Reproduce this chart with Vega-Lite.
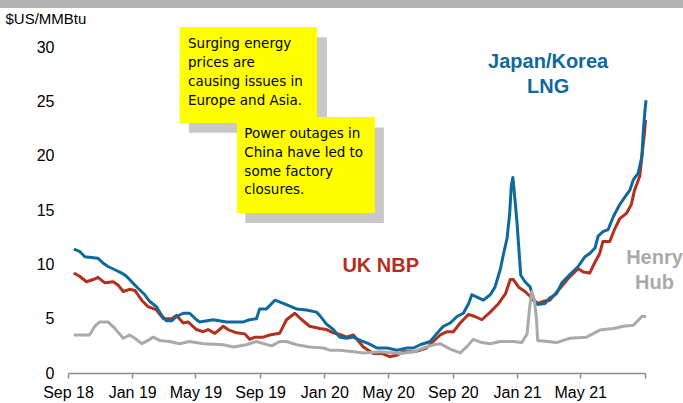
{
  "$schema": "https://vega.github.io/schema/vega-lite/v6.json",
  "width": 577,
  "height": 326,
  "autosize": {"type": "none"},
  "padding": {"left": 68, "top": 47, "right": 38, "bottom": 30},
  "background": "#ffffff",
  "config": {"view": {"stroke": null}, "font": "Liberation Sans"},
  "datasets": {
    "prices": [
      {"series":"UK NBP","date":"2018-09-12","price":9.2},{"series":"UK NBP","date":"2018-09-23","price":8.9},{"series":"UK NBP","date":"2018-10-06","price":8.4},{"series":"UK NBP","date":"2018-10-19","price":8.6},{"series":"UK NBP","date":"2018-10-28","price":8.8},{"series":"UK NBP","date":"2018-11-10","price":8.3},{"series":"UK NBP","date":"2018-11-26","price":8.4},{"series":"UK NBP","date":"2018-12-05","price":8.1},{"series":"UK NBP","date":"2018-12-15","price":7.5},{"series":"UK NBP","date":"2018-12-27","price":7.7},{"series":"UK NBP","date":"2019-01-06","price":7.6},{"series":"UK NBP","date":"2019-01-19","price":6.7},{"series":"UK NBP","date":"2019-01-31","price":6.1},{"series":"UK NBP","date":"2019-02-16","price":5.8},{"series":"UK NBP","date":"2019-03-01","price":5.0},{"series":"UK NBP","date":"2019-03-17","price":5.0},{"series":"UK NBP","date":"2019-03-26","price":5.3},{"series":"UK NBP","date":"2019-04-08","price":4.6},{"series":"UK NBP","date":"2019-04-17","price":4.7},{"series":"UK NBP","date":"2019-05-03","price":4.0},{"series":"UK NBP","date":"2019-05-16","price":3.8},{"series":"UK NBP","date":"2019-05-25","price":4.0},{"series":"UK NBP","date":"2019-06-07","price":3.65},{"series":"UK NBP","date":"2019-06-23","price":4.3},{"series":"UK NBP","date":"2019-07-02","price":4.0},{"series":"UK NBP","date":"2019-07-18","price":3.7},{"series":"UK NBP","date":"2019-08-03","price":3.6},{"series":"UK NBP","date":"2019-08-12","price":3.1},{"series":"UK NBP","date":"2019-08-22","price":3.3},{"series":"UK NBP","date":"2019-09-07","price":3.3},{"series":"UK NBP","date":"2019-09-19","price":3.5},{"series":"UK NBP","date":"2019-10-08","price":3.65},{"series":"UK NBP","date":"2019-10-21","price":4.9},{"series":"UK NBP","date":"2019-11-06","price":5.5},{"series":"UK NBP","date":"2019-11-19","price":4.9},{"series":"UK NBP","date":"2019-12-04","price":4.3},{"series":"UK NBP","date":"2019-12-23","price":4.1},{"series":"UK NBP","date":"2020-01-05","price":4.0},{"series":"UK NBP","date":"2020-01-18","price":3.7},{"series":"UK NBP","date":"2020-02-02","price":3.5},{"series":"UK NBP","date":"2020-02-12","price":3.3},{"series":"UK NBP","date":"2020-02-25","price":3.5},{"series":"UK NBP","date":"2020-03-15","price":2.4},{"series":"UK NBP","date":"2020-04-03","price":1.8},{"series":"UK NBP","date":"2020-04-19","price":1.8},{"series":"UK NBP","date":"2020-05-04","price":1.5},{"series":"UK NBP","date":"2020-05-18","price":1.65},{"series":"UK NBP","date":"2020-05-30","price":1.95},{"series":"UK NBP","date":"2020-06-18","price":1.95},{"series":"UK NBP","date":"2020-07-01","price":2.1},{"series":"UK NBP","date":"2020-07-13","price":2.3},{"series":"UK NBP","date":"2020-07-26","price":2.9},{"series":"UK NBP","date":"2020-08-08","price":3.5},{"series":"UK NBP","date":"2020-08-21","price":3.8},{"series":"UK NBP","date":"2020-09-02","price":3.8},{"series":"UK NBP","date":"2020-09-15","price":4.6},{"series":"UK NBP","date":"2020-10-01","price":5.4},{"series":"UK NBP","date":"2020-10-13","price":5.2},{"series":"UK NBP","date":"2020-10-26","price":4.9},{"series":"UK NBP","date":"2020-11-11","price":5.6},{"series":"UK NBP","date":"2020-11-27","price":6.4},{"series":"UK NBP","date":"2020-12-10","price":7.3},{"series":"UK NBP","date":"2020-12-19","price":8.6},{"series":"UK NBP","date":"2020-12-25","price":8.6},{"series":"UK NBP","date":"2021-01-04","price":7.9},{"series":"UK NBP","date":"2021-01-16","price":7.5},{"series":"UK NBP","date":"2021-01-29","price":6.9},{"series":"UK NBP","date":"2021-02-09","price":6.4},{"series":"UK NBP","date":"2021-02-20","price":6.6},{"series":"UK NBP","date":"2021-03-04","price":6.7},{"series":"UK NBP","date":"2021-03-20","price":7.6},{"series":"UK NBP","date":"2021-04-08","price":8.7},{"series":"UK NBP","date":"2021-04-27","price":9.6},{"series":"UK NBP","date":"2021-05-07","price":9.3},{"series":"UK NBP","date":"2021-05-19","price":9.2},{"series":"UK NBP","date":"2021-05-29","price":10.2},{"series":"UK NBP","date":"2021-06-07","price":11.0},{"series":"UK NBP","date":"2021-06-13","price":12.1},{"series":"UK NBP","date":"2021-06-26","price":12.1},{"series":"UK NBP","date":"2021-07-05","price":13.2},{"series":"UK NBP","date":"2021-07-15","price":14.2},{"series":"UK NBP","date":"2021-07-28","price":14.7},{"series":"UK NBP","date":"2021-08-06","price":15.5},{"series":"UK NBP","date":"2021-08-12","price":16.8},{"series":"UK NBP","date":"2021-08-22","price":18.1},{"series":"UK NBP","date":"2021-08-26","price":19.9},{"series":"UK NBP","date":"2021-08-31","price":22.1},{"series":"UK NBP","date":"2021-09-02","price":23.3},

      {"series":"Japan/Korea LNG","date":"2018-09-12","price":11.4},{"series":"Japan/Korea LNG","date":"2018-09-23","price":11.2},{"series":"Japan/Korea LNG","date":"2018-10-03","price":10.7},{"series":"Japan/Korea LNG","date":"2018-10-19","price":10.6},{"series":"Japan/Korea LNG","date":"2018-10-28","price":10.55},{"series":"Japan/Korea LNG","date":"2018-11-07","price":10.1},{"series":"Japan/Korea LNG","date":"2018-11-16","price":9.8},{"series":"Japan/Korea LNG","date":"2018-11-29","price":9.5},{"series":"Japan/Korea LNG","date":"2018-12-12","price":9.2},{"series":"Japan/Korea LNG","date":"2018-12-21","price":8.9},{"series":"Japan/Korea LNG","date":"2018-12-31","price":8.4},{"series":"Japan/Korea LNG","date":"2019-01-12","price":7.8},{"series":"Japan/Korea LNG","date":"2019-01-25","price":7.2},{"series":"Japan/Korea LNG","date":"2019-02-03","price":6.6},{"series":"Japan/Korea LNG","date":"2019-02-16","price":6.1},{"series":"Japan/Korea LNG","date":"2019-02-26","price":5.3},{"series":"Japan/Korea LNG","date":"2019-03-07","price":4.8},{"series":"Japan/Korea LNG","date":"2019-03-17","price":4.8},{"series":"Japan/Korea LNG","date":"2019-03-26","price":5.2},{"series":"Japan/Korea LNG","date":"2019-04-08","price":5.5},{"series":"Japan/Korea LNG","date":"2019-04-20","price":5.5},{"series":"Japan/Korea LNG","date":"2019-05-03","price":4.9},{"series":"Japan/Korea LNG","date":"2019-05-09","price":4.7},{"series":"Japan/Korea LNG","date":"2019-06-04","price":4.9},{"series":"Japan/Korea LNG","date":"2019-06-29","price":4.7},{"series":"Japan/Korea LNG","date":"2019-07-31","price":4.7},{"series":"Japan/Korea LNG","date":"2019-08-12","price":4.9},{"series":"Japan/Korea LNG","date":"2019-08-25","price":5.0},{"series":"Japan/Korea LNG","date":"2019-08-31","price":5.9},{"series":"Japan/Korea LNG","date":"2019-09-13","price":5.9},{"series":"Japan/Korea LNG","date":"2019-09-29","price":6.7},{"series":"Japan/Korea LNG","date":"2019-10-15","price":6.4},{"series":"Japan/Korea LNG","date":"2019-11-09","price":5.9},{"series":"Japan/Korea LNG","date":"2019-11-28","price":5.8},{"series":"Japan/Korea LNG","date":"2019-12-17","price":5.6},{"series":"Japan/Korea LNG","date":"2019-12-23","price":5.3},{"series":"Japan/Korea LNG","date":"2020-01-05","price":4.5},{"series":"Japan/Korea LNG","date":"2020-01-18","price":4.0},{"series":"Japan/Korea LNG","date":"2020-01-30","price":3.3},{"series":"Japan/Korea LNG","date":"2020-02-12","price":3.2},{"series":"Japan/Korea LNG","date":"2020-02-25","price":3.3},{"series":"Japan/Korea LNG","date":"2020-03-09","price":3.0},{"series":"Japan/Korea LNG","date":"2020-03-25","price":2.7},{"series":"Japan/Korea LNG","date":"2020-04-10","price":2.3},{"series":"Japan/Korea LNG","date":"2020-04-29","price":2.3},{"series":"Japan/Korea LNG","date":"2020-05-18","price":2.1},{"series":"Japan/Korea LNG","date":"2020-06-06","price":2.3},{"series":"Japan/Korea LNG","date":"2020-06-18","price":2.3},{"series":"Japan/Korea LNG","date":"2020-07-01","price":2.6},{"series":"Japan/Korea LNG","date":"2020-07-20","price":2.9},{"series":"Japan/Korea LNG","date":"2020-08-02","price":3.65},{"series":"Japan/Korea LNG","date":"2020-08-14","price":4.3},{"series":"Japan/Korea LNG","date":"2020-08-27","price":4.6},{"series":"Japan/Korea LNG","date":"2020-09-09","price":5.2},{"series":"Japan/Korea LNG","date":"2020-09-21","price":5.5},{"series":"Japan/Korea LNG","date":"2020-10-01","price":6.4},{"series":"Japan/Korea LNG","date":"2020-10-07","price":7.2},{"series":"Japan/Korea LNG","date":"2020-10-16","price":7.0},{"series":"Japan/Korea LNG","date":"2020-10-29","price":6.7},{"series":"Japan/Korea LNG","date":"2020-11-11","price":7.2},{"series":"Japan/Korea LNG","date":"2020-11-20","price":7.9},{"series":"Japan/Korea LNG","date":"2020-11-30","price":9.5},{"series":"Japan/Korea LNG","date":"2020-12-06","price":10.9},{"series":"Japan/Korea LNG","date":"2020-12-13","price":12.4},{"series":"Japan/Korea LNG","date":"2020-12-18","price":14.7},{"series":"Japan/Korea LNG","date":"2020-12-21","price":17.2},{"series":"Japan/Korea LNG","date":"2020-12-24","price":18.0},{"series":"Japan/Korea LNG","date":"2020-12-27","price":16.5},{"series":"Japan/Korea LNG","date":"2021-01-01","price":13.8},{"series":"Japan/Korea LNG","date":"2021-01-05","price":11.0},{"series":"Japan/Korea LNG","date":"2021-01-08","price":9.0},{"series":"Japan/Korea LNG","date":"2021-01-16","price":8.4},{"series":"Japan/Korea LNG","date":"2021-01-26","price":7.9},{"series":"Japan/Korea LNG","date":"2021-02-01","price":6.7},{"series":"Japan/Korea LNG","date":"2021-02-09","price":6.3},{"series":"Japan/Korea LNG","date":"2021-02-23","price":6.4},{"series":"Japan/Korea LNG","date":"2021-03-04","price":6.9},{"series":"Japan/Korea LNG","date":"2021-03-17","price":7.3},{"series":"Japan/Korea LNG","date":"2021-03-27","price":8.3},{"series":"Japan/Korea LNG","date":"2021-04-08","price":8.9},{"series":"Japan/Korea LNG","date":"2021-04-27","price":9.8},{"series":"Japan/Korea LNG","date":"2021-05-10","price":10.7},{"series":"Japan/Korea LNG","date":"2021-05-19","price":11.0},{"series":"Japan/Korea LNG","date":"2021-05-29","price":11.5},{"series":"Japan/Korea LNG","date":"2021-06-04","price":12.6},{"series":"Japan/Korea LNG","date":"2021-06-13","price":13.0},{"series":"Japan/Korea LNG","date":"2021-06-23","price":13.2},{"series":"Japan/Korea LNG","date":"2021-07-03","price":14.4},{"series":"Japan/Korea LNG","date":"2021-07-15","price":15.5},{"series":"Japan/Korea LNG","date":"2021-07-25","price":16.2},{"series":"Japan/Korea LNG","date":"2021-08-03","price":16.8},{"series":"Japan/Korea LNG","date":"2021-08-10","price":17.8},{"series":"Japan/Korea LNG","date":"2021-08-19","price":18.4},{"series":"Japan/Korea LNG","date":"2021-08-26","price":19.9},{"series":"Japan/Korea LNG","date":"2021-08-29","price":22.4},{"series":"Japan/Korea LNG","date":"2021-09-01","price":24.2},{"series":"Japan/Korea LNG","date":"2021-09-03","price":25.1},

      {"series":"Henry Hub","date":"2018-09-12","price":3.5},{"series":"Henry Hub","date":"2018-10-12","price":3.5},{"series":"Henry Hub","date":"2018-10-22","price":4.3},{"series":"Henry Hub","date":"2018-10-31","price":4.7},{"series":"Henry Hub","date":"2018-11-16","price":4.7},{"series":"Henry Hub","date":"2018-11-29","price":4.1},{"series":"Henry Hub","date":"2018-12-15","price":3.2},{"series":"Henry Hub","date":"2018-12-27","price":3.5},{"series":"Henry Hub","date":"2019-01-06","price":3.2},{"series":"Henry Hub","date":"2019-01-19","price":2.7},{"series":"Henry Hub","date":"2019-01-31","price":3.0},{"series":"Henry Hub","date":"2019-02-10","price":3.3},{"series":"Henry Hub","date":"2019-02-22","price":3.0},{"series":"Henry Hub","date":"2019-03-13","price":2.9},{"series":"Henry Hub","date":"2019-04-01","price":2.7},{"series":"Henry Hub","date":"2019-04-20","price":2.9},{"series":"Henry Hub","date":"2019-05-16","price":2.7},{"series":"Henry Hub","date":"2019-06-23","price":2.6},{"series":"Henry Hub","date":"2019-07-12","price":2.4},{"series":"Henry Hub","date":"2019-08-06","price":2.6},{"series":"Henry Hub","date":"2019-08-25","price":2.9},{"series":"Henry Hub","date":"2019-09-07","price":2.7},{"series":"Henry Hub","date":"2019-09-23","price":2.5},{"series":"Henry Hub","date":"2019-10-08","price":2.9},{"series":"Henry Hub","date":"2019-10-21","price":2.9},{"series":"Henry Hub","date":"2019-11-09","price":2.6},{"series":"Henry Hub","date":"2019-12-04","price":2.4},{"series":"Henry Hub","date":"2019-12-30","price":2.3},{"series":"Henry Hub","date":"2020-01-11","price":2.1},{"series":"Henry Hub","date":"2020-01-30","price":2.1},{"series":"Henry Hub","date":"2020-02-25","price":1.95},{"series":"Henry Hub","date":"2020-03-15","price":1.85},{"series":"Henry Hub","date":"2020-04-16","price":1.95},{"series":"Henry Hub","date":"2020-05-24","price":1.8},{"series":"Henry Hub","date":"2020-06-18","price":1.95},{"series":"Henry Hub","date":"2020-07-07","price":2.3},{"series":"Henry Hub","date":"2020-07-26","price":2.6},{"series":"Henry Hub","date":"2020-08-08","price":2.7},{"series":"Henry Hub","date":"2020-08-27","price":2.2},{"series":"Henry Hub","date":"2020-09-15","price":1.85},{"series":"Henry Hub","date":"2020-09-27","price":2.4},{"series":"Henry Hub","date":"2020-10-10","price":3.1},{"series":"Henry Hub","date":"2020-10-26","price":2.8},{"series":"Henry Hub","date":"2020-11-11","price":2.7},{"series":"Henry Hub","date":"2020-11-30","price":2.9},{"series":"Henry Hub","date":"2020-12-25","price":2.9},{"series":"Henry Hub","date":"2021-01-10","price":2.8},{"series":"Henry Hub","date":"2021-01-20","price":3.6},{"series":"Henry Hub","date":"2021-01-25","price":6.1},{"series":"Henry Hub","date":"2021-01-29","price":7.5},{"series":"Henry Hub","date":"2021-02-03","price":6.7},{"series":"Henry Hub","date":"2021-02-07","price":4.9},{"series":"Henry Hub","date":"2021-02-09","price":3.0},{"series":"Henry Hub","date":"2021-02-27","price":2.9},{"series":"Henry Hub","date":"2021-03-17","price":2.8},{"series":"Henry Hub","date":"2021-04-11","price":3.2},{"series":"Henry Hub","date":"2021-05-13","price":3.3},{"series":"Henry Hub","date":"2021-06-07","price":3.95},{"series":"Henry Hub","date":"2021-07-03","price":4.1},{"series":"Henry Hub","date":"2021-07-22","price":4.3},{"series":"Henry Hub","date":"2021-08-10","price":4.4},{"series":"Henry Hub","date":"2021-08-26","price":5.2},{"series":"Henry Hub","date":"2021-09-03","price":5.2}
    ],
    "bar": [{"x": "2018-04-01", "x2": "2021-12-31", "y": 33.58, "y2": 36}],
    "boxes": [
      {"kind": "shadow", "x": "2019-04-19", "x2": "2020-01-06", "y": 30.9, "y2": 22.1},
      {"kind": "box", "x": "2019-04-01", "x2": "2019-12-18", "y": 31.83, "y2": 23.0},
      {"kind": "shadow", "x": "2019-08-04", "x2": "2020-04-23", "y": 22.6, "y2": 13.8},
      {"kind": "box", "x": "2019-07-19", "x2": "2020-04-06", "y": 23.55, "y2": 14.72}
    ],
    "notes": [
      {"date": "2019-04-17", "y": 30.24, "text": "Surging energy"},
      {"date": "2019-04-17", "y": 28.5, "text": "prices are"},
      {"date": "2019-04-17", "y": 26.74, "text": "causing issues in"},
      {"date": "2019-04-17", "y": 25.0, "text": "Europe and Asia."},
      {"date": "2019-08-02", "y": 21.96, "text": "Power outages in"},
      {"date": "2019-08-02", "y": 20.2, "text": "China have led to"},
      {"date": "2019-08-02", "y": 18.5, "text": "some factory"},
      {"date": "2019-08-02", "y": 16.84, "text": "closures."}
    ],
    "labels": [
      {"series": "Japan/Korea LNG", "date": "2021-03-01", "y": 28.6, "text": "Japan/Korea"},
      {"series": "Japan/Korea LNG", "date": "2021-03-01", "y": 26.3, "text": "LNG"},
      {"series": "UK NBP", "date": "2020-04-17", "y": 9.84, "text": "UK NBP"},
      {"series": "Henry Hub", "date": "2021-09-19", "y": 10.58, "text": "Henry"},
      {"series": "Henry Hub", "date": "2021-09-19", "y": 8.28, "text": "Hub"}
    ]
  },
  "layer": [
    {
      "data": {"name": "prices"},
      "mark": {"type": "line", "strokeWidth": 3, "strokeJoin": "round", "clip": false},
      "encoding": {
        "x": {
          "field": "date", "type": "temporal", "title": null,
          "scale": {"domain": [{"year": 2018, "month": 9, "date": 1, "utc": true}, {"year": 2021, "month": 9, "date": 1, "utc": true}], "nice": false},
          "axis": {
            "title": null,
            "values": [
              {"year": 2018, "month": 9, "date": 1, "utc": true},
              {"year": 2019, "month": 1, "date": 1, "utc": true},
              {"year": 2019, "month": 5, "date": 1, "utc": true},
              {"year": 2019, "month": 9, "date": 1, "utc": true},
              {"year": 2020, "month": 1, "date": 1, "utc": true},
              {"year": 2020, "month": 5, "date": 1, "utc": true},
              {"year": 2020, "month": 9, "date": 1, "utc": true},
              {"year": 2021, "month": 1, "date": 1, "utc": true},
              {"year": 2021, "month": 5, "date": 1, "utc": true},
              {"year": 2021, "month": 9, "date": 1, "utc": true}
            ],
            "labelExpr": "(utcyear(datum.value) == 2021 && utcmonth(datum.value) == 8) ? '' : utcFormat(datum.value, '%b %y')",
            "grid": false,
            "labelFont": "Liberation Sans", "labelFontSize": 16, "labelColor": "#000000",
            "labelPadding": 6, "labelFlush": false, "labelOverlap": false,
            "domainColor": "#8c8c8c", "domainWidth": 1.5,
            "tickColor": "#8c8c8c", "tickWidth": 1.5, "tickSize": 5
          }
        },
        "y": {
          "field": "price", "type": "quantitative", "title": "$US/MMBtu",
          "scale": {"domain": [0, 30], "nice": false, "zero": true},
          "axis": {
            "title": "$US/MMBtu",
            "titleAngle": 0, "titleAlign": "left", "titleBaseline": "middle",
            "titleX": -63, "titleY": -29,
            "titleFont": "Liberation Sans", "titleFontSize": 15, "titleFontWeight": "normal", "titleColor": "#000000",
            "values": [0, 5, 10, 15, 20, 25, 30],
            "grid": false, "domain": false, "ticks": false,
            "labelFont": "Liberation Sans", "labelFontSize": 16, "labelColor": "#000000",
            "labelPadding": 14
          }
        },
        "color": {
          "field": "series", "type": "nominal",
          "scale": {"domain": ["UK NBP", "Japan/Korea LNG", "Henry Hub"], "range": ["#b3301f", "#0f6a9b", "#aaaaaa"]},
          "legend": null
        }
      }
    },
    {
      "data": {"name": "bar"},
      "mark": {"type": "rect", "color": "#b3b3b3", "clip": false},
      "encoding": {
        "x": {"field": "x", "type": "temporal", "title": null},
        "x2": {"field": "x2"},
        "y": {"field": "y", "type": "quantitative", "title": "$US/MMBtu"},
        "y2": {"field": "y2"}
      }
    },
    {
      "data": {"name": "boxes"},
      "mark": {"type": "rect", "clip": false},
      "encoding": {
        "x": {"field": "x", "type": "temporal", "title": null},
        "x2": {"field": "x2"},
        "y": {"field": "y", "type": "quantitative", "title": "$US/MMBtu"},
        "y2": {"field": "y2"},
        "fill": {"field": "kind", "type": "nominal", "scale": {"domain": ["shadow", "box"], "range": ["#c8c8c8", "#ffff00"]}, "legend": null}
      }
    },
    {
      "data": {"name": "notes"},
      "mark": {"type": "text", "align": "left", "baseline": "middle", "font": "DejaVu Sans", "fontSize": 13.5, "color": "#000000"},
      "encoding": {
        "x": {"field": "date", "type": "temporal", "title": null},
        "y": {"field": "y", "type": "quantitative", "title": "$US/MMBtu"},
        "text": {"field": "text"}
      }
    },
    {
      "data": {"name": "labels"},
      "mark": {"type": "text", "align": "center", "baseline": "middle", "font": "Liberation Sans", "fontSize": 20, "fontWeight": "bold", "clip": false},
      "encoding": {
        "x": {"field": "date", "type": "temporal", "title": null},
        "y": {"field": "y", "type": "quantitative", "title": "$US/MMBtu"},
        "text": {"field": "text"},
        "color": {"field": "series", "type": "nominal", "legend": null}
      }
    }
  ]
}
